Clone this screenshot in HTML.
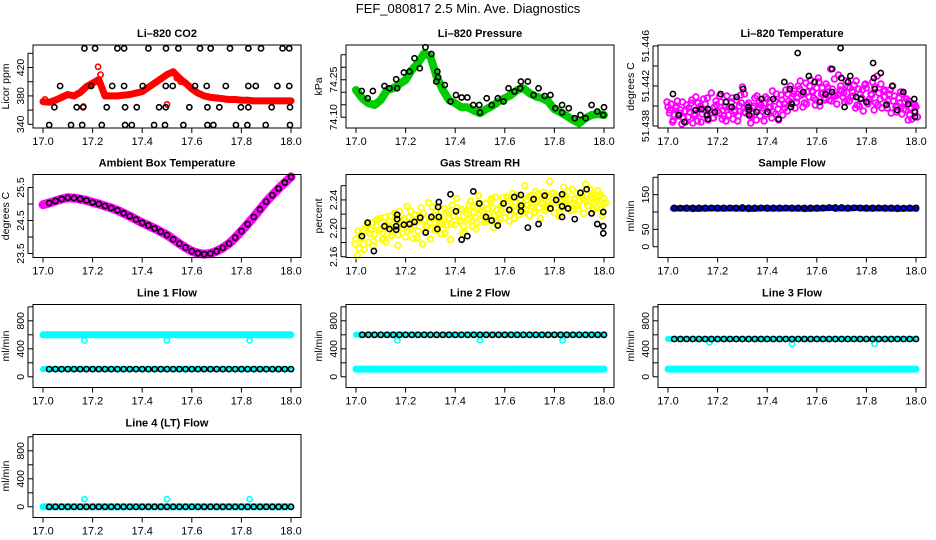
<!DOCTYPE html>
<html><head><meta charset="utf-8">
<style>
html,body{margin:0;padding:0;background:#fff;}
svg{display:block;font-family:"Liberation Sans",Arial,sans-serif;}
</style></head>
<body>
<svg id="chart" width="936" height="540" viewBox="0 0 936 540" xmlns="http://www.w3.org/2000/svg">
<text x="468" y="13" text-anchor="middle" font-size="13">FEF_080817  2.5 Min. Ave. Diagnostics</text>
</svg>
<script>
// ---------- data ----------
const xTicks = [17.0,17.2,17.4,17.6,17.8,18.0];
const xTickLabels = ["17.0","17.2","17.4","17.6","17.8","18.0"];

const co2Red = [372,371,374,378,382,380,385,393,398,403,380,380,380,381,382,384,386,392,398,404,410,414,405,398,390,384,380,378,377,376,375,375,374,374,373,373,373,373,373,373,373];
const co2BlackT = [17.167,17.21,17.30,17.327,17.425,17.496,17.546,17.633,17.676,17.754,17.828,17.879,17.966,17.993,
 17.069,17.194,17.279,17.327,17.402,17.495,17.523,17.613,17.66,17.737,17.828,17.858,17.945,17.993,
 17.046,17.136,17.162,17.257,17.331,17.378,17.468,17.495,17.59,17.663,17.711,17.798,17.828,17.922,17.996,
 17.025,17.113,17.158,17.237,17.331,17.358,17.448,17.492,17.566,17.663,17.687,17.778,17.824,17.898,17.996];
const co2BlackV = [447,447,447,447,447,447,447,447,447,447,447,447,447,447,
 394,394,394,394,394,394,394,394,394,394,394,394,394,394,
 364,364,364,364,364,364,364,364,364,364,364,364,364,364,364,
 339,339,339,339,339,339,339,339,339,339,339,339,339,339,339];
const co2OutT = [17.008,17.163,17.222,17.232,17.50,17.54,17.555];
const co2OutV = [375,365,421,410,368,405,400];

const presGreen = [74.209,74.176,74.156,74.149,74.169,74.209,74.216,74.233,74.249,74.289,74.316,74.356,74.343,74.263,74.209,74.169,74.156,74.140,74.140,74.127,74.116,74.132,74.145,74.163,74.176,74.189,74.209,74.216,74.196,74.183,74.176,74.163,74.132,74.119,74.105,74.089,74.076,74.096,74.109,74.113,74.109];
const presBlackT = [17.023,17.047,17.068,17.115,17.135,17.162,17.166,17.193,17.216,17.236,17.257,17.280,17.304,17.328,17.324,17.331,17.358,17.381,17.403,17.426,17.449,17.473,17.497,17.5,17.527,17.547,17.572,17.595,17.615,17.639,17.662,17.665,17.693,17.716,17.736,17.761,17.784,17.804,17.831,17.831,17.858,17.882,17.905,17.926,17.95,17.973,17.997,18.0];
const presBlackV = [74.205,74.176,74.205,74.225,74.216,74.252,74.216,74.279,74.283,74.336,74.296,74.38,74.353,74.283,74.243,74.26,74.229,74.163,74.189,74.179,74.179,74.149,74.149,74.119,74.176,74.149,74.176,74.163,74.216,74.203,74.216,74.243,74.243,74.189,74.216,74.185,74.189,74.136,74.149,74.119,74.136,74.096,74.109,74.096,74.149,74.123,74.109,74.14];

const tempMagA = [51.4399,51.4402,51.4391,51.4405,51.4396,51.4388,51.4401,51.4394,51.4383,51.4409,51.4397,51.4392,51.4402,51.4386,51.4413,51.4399,51.4395,51.4404,51.4390,51.4410,51.4398,51.4387,51.4406,51.4400,51.4419,51.4393,51.4403,51.4389,51.4408,51.4396,51.4401,51.4385,51.4407,51.4399,51.4394,51.4412,51.4402,51.4391,51.4416,51.4405,51.4409,51.4398,51.4420,51.4411,51.4403,51.4414,51.4426,51.4408,51.4418,51.4400,51.4413,51.4422,51.4406,51.4417,51.4410,51.4431,51.4415,51.4404,51.4419,51.4409,51.4421,51.4401,51.4412,51.4395,51.4418,51.4407,51.4424,51.4403,51.4413,51.4398,51.4416,51.4405,51.4393,51.4410,51.4400,51.4414,51.4397,51.4407,51.4391,51.4402,51.4399];
const tempMagB = [51.4393,51.4384,51.4398,51.4390,51.4382,51.4395,51.4389,51.4403,51.4392,51.4385,51.4400,51.4407,51.4390,51.4396,51.4388,51.4405,51.4393,51.4387,51.4399,51.4391,51.4404,51.4396,51.4385,51.4411,51.4394,51.4401,51.4390,51.4398,51.4386,51.4404,51.4395,51.4409,51.4399,51.4388,51.4405,51.4397,51.4411,51.4402,51.4395,51.4420,51.4412,51.4404,51.4417,51.4399,51.4423,51.4409,51.4415,51.4401,51.4428,51.4412,51.4406,51.4419,51.4437,51.4411,51.4402,51.4416,51.4409,51.4425,51.4405,51.4414,51.4398,51.4417,51.4408,51.4421,51.4402,51.4412,51.4396,51.4430,51.4407,51.4415,51.4402,51.4412,51.4420,51.4399,51.4408,51.4392,51.4404,51.4386,51.4398,51.4395,51.4389];
const tempMagC = [51.4404,51.4396,51.4386,51.4400,51.4393,51.4404,51.4384,51.4398,51.4406,51.4390,51.4403,51.4384,51.4396,51.4408,51.4393,51.4388,51.4401,51.4410,51.4396,51.4385,51.4399,51.4408,51.4394,51.4390,51.4403,51.4412,51.4397,51.4383,51.4400,51.4410,51.4390,51.4398,51.4392,51.4404,51.4415,51.4392,51.4386,51.4406,51.4398,51.4412,51.4403,51.4415,51.4408,51.4425,51.4412,51.4402,51.4420,51.4414,51.4406,51.4424,51.4418,51.4408,51.4414,51.4405,51.4427,51.4411,51.4420,51.4413,51.4406,51.4418,51.4410,51.4425,51.4400,51.4416,51.4422,51.4404,51.4411,51.4419,51.4401,51.4422,51.4409,51.4398,51.4416,51.4405,51.4394,51.4403,51.4412,51.4396,51.4405,51.4387,51.4401];
const tempBlackT = [17.02,17.043,17.066,17.111,17.135,17.161,17.158,17.161,17.189,17.212,17.234,17.257,17.277,17.303,17.324,17.327,17.327,17.357,17.377,17.401,17.424,17.446,17.469,17.491,17.496,17.499,17.523,17.545,17.568,17.591,17.612,17.635,17.661,17.662,17.696,17.699,17.726,17.712,17.735,17.759,17.777,17.8,17.827,17.83,17.834,17.858,17.881,17.904,17.924,17.949,17.969,17.993,17.996,17.996];
const tempBlackV = [51.4412,51.4391,51.4384,51.4396,51.4397,51.4397,51.4391,51.4387,51.4394,51.4412,51.4404,51.4399,51.4409,51.4417,51.4399,51.4396,51.4391,51.4394,51.4407,51.4394,51.4407,51.4387,51.4424,51.4417,51.4399,51.4402,51.4453,51.4414,51.443,51.4424,51.4404,51.4412,51.4414,51.4437,51.4458,51.4428,51.4424,51.4399,51.443,51.4409,51.4407,51.4404,51.4443,51.4428,51.4417,51.4433,51.4401,51.442,51.4396,51.4414,51.4402,51.4407,51.4389,51.4394];

const ambient = [24.98,25.03,25.09,25.15,25.19,25.18,25.15,25.11,25.05,25.00,24.94,24.88,24.81,24.72,24.63,24.53,24.43,24.35,24.26,24.16,24.06,23.93,23.80,23.68,23.57,23.51,23.48,23.50,23.57,23.67,23.80,23.98,24.18,24.39,24.61,24.84,25.07,25.27,25.47,25.65,25.82];

const rhA = [2.185,2.172,2.195,2.201,2.180,2.208,2.192,2.213,2.199,2.186,2.205,2.217,2.194,2.210,2.224,2.201,2.188,2.215,2.207,2.219,2.196,2.229,2.212,2.203,2.185,2.218,2.226,2.209,2.199,2.221,2.214,2.233,2.205,2.219,2.227,2.196,2.212,2.238,2.222,2.208,2.226,2.217,2.235,2.211,2.229,2.244,2.220,2.232,2.215,2.239,2.227,2.214,2.247,2.231,2.222,2.240,2.218,2.236,2.252,2.229,2.243,2.225,2.237,2.249,2.222,2.245,2.233,2.258,2.230,2.241,2.226,2.250,2.238,2.244,2.262,2.231,2.247,2.236,2.253,2.228,2.242];
const rhB = [2.162,2.190,2.178,2.204,2.193,2.176,2.211,2.198,2.184,2.216,2.203,2.190,2.222,2.176,2.206,2.214,2.231,2.198,2.186,2.210,2.218,2.178,2.203,2.236,2.214,2.197,2.212,2.192,2.228,2.205,2.184,2.217,2.242,2.209,2.193,2.225,2.233,2.203,2.216,2.246,2.231,2.208,2.220,2.239,2.201,2.226,2.214,2.243,2.222,2.210,2.249,2.237,2.219,2.228,2.260,2.233,2.246,2.222,2.238,2.214,2.251,2.230,2.266,2.241,2.229,2.217,2.244,2.235,2.252,2.225,2.240,2.232,2.248,2.221,2.238,2.255,2.242,2.229,2.244,2.218,2.236];
const rhC = [2.178,2.196,2.186,2.170,2.206,2.198,2.182,2.203,2.214,2.194,2.181,2.209,2.201,2.220,2.191,2.207,2.212,2.196,2.224,2.204,2.186,2.213,2.221,2.197,2.208,2.230,2.201,2.216,2.210,2.193,2.224,2.206,2.217,2.229,2.211,2.203,2.221,2.214,2.231,2.199,2.236,2.224,2.212,2.228,2.242,2.219,2.209,2.226,2.236,2.244,2.218,2.230,2.224,2.240,2.233,2.226,2.245,2.231,2.223,2.248,2.236,2.241,2.228,2.233,2.250,2.238,2.222,2.246,2.241,2.233,2.255,2.235,2.227,2.249,2.240,2.232,2.244,2.226,2.239,2.247,2.233];
const rhBlackT = [17.024,17.047,17.072,17.115,17.135,17.162,17.166,17.166,17.162,17.193,17.216,17.236,17.259,17.281,17.304,17.328,17.334,17.331,17.334,17.381,17.403,17.426,17.449,17.473,17.497,17.524,17.547,17.572,17.595,17.618,17.638,17.665,17.665,17.666,17.693,17.716,17.736,17.761,17.784,17.807,17.831,17.831,17.831,17.855,17.882,17.905,17.930,17.950,17.973,17.997,17.997,17.997];
const rhBlackV = [2.189,2.208,2.168,2.203,2.199,2.203,2.213,2.219,2.198,2.205,2.206,2.209,2.215,2.194,2.216,2.199,2.237,2.230,2.216,2.248,2.224,2.184,2.189,2.252,2.235,2.216,2.211,2.204,2.235,2.226,2.244,2.247,2.224,2.232,2.201,2.241,2.206,2.246,2.228,2.240,2.248,2.216,2.231,2.228,2.213,2.250,2.255,2.221,2.206,2.223,2.203,2.193];

const sampleBlue = [110,110,111,110,109,110,110,111,110,110,111,110,110,109,110,111,110,110,110,111,110,110,109,110,110,111,112,110,111,110,112,111,110,110,111,110,110,109,110,110,110];
const sampleBlack = [112,112,111,112,112,112,112,112,112,112,112,112,113,112,112,112,112,112,112,112,112,112,112,112,112,112,113,113,113,112,112,112,112,112,112,112,112,112,111,112,112];

const line1CyanHi = [600,600,600,600,600,600,600,600,600,600,600,600,600,600,600,600,600,600,600,600,600,600,600,600,600,600,600,600,600,600,600,600,600,600,600,600,600,600,600,600,600];
const line1Black = 110;
const line1Cyan = 110;
const line2Black = 600;
const line2Cyan = 110;
const line3Black = 540;
const line3Cyan = 110;
const line4Black = 0;
const line4Cyan = 0;
const dipT = [17.167,17.50,17.833];
const line1Dip = [520,520,520];
const line2Dip = [520,520,520];
const line3Dip = [490,470,470];
const line4Dip = [110,110,110];
</script>
<script>
const svg = document.getElementById('chart');
const NS = 'http://www.w3.org/2000/svg';
const colLeft = [33,346,658], W = 268, rowTop = [45,174.5,304.5,434.5], H = 83;
function mk(tag, attrs){ const e=document.createElementNS(NS,tag); for(const k in attrs) e.setAttribute(k,attrs[k]); return e; }
function dense(n){ const a=[]; for(let i=0;i<n;i++) a.push(17+i/(n-1)); return a; }

function panel(col,row,title,ylab,lo,hi,yt,ylabels,name){
  const L=colLeft[col], T=rowTop[row];
  const g=mk('g',{});
  
  
  svg.appendChild(g);
  const p={g,L,T,
    x:v=>L+10+(v-17)*248,
    y:v=>T+H*(hi-v)/(hi-lo)};
  const t=mk('text',{x:L+W/2,y:T-8,'text-anchor':'middle','font-size':'11','font-weight':'bold'});
  t.textContent=title;
  
  
  g.appendChild(t);
  const yl=mk('text',{x:0,y:0,'text-anchor':'middle','font-size':'10.5',transform:`translate(${L-24},${T+H/2}) rotate(-90)`});
  yl.textContent=ylab;
  
  
  g.appendChild(yl);
  const xa=mk('g',{});
  
  
  g.appendChild(xa);
  xTicks.forEach((v,i)=>{
    const X=p.x(v);
    xa.appendChild(mk('line',{x1:X,x2:X,y1:T+H,y2:T+H+5,stroke:'#000','stroke-width':1}));
    const tl=mk('text',{x:X,y:T+H+17,'text-anchor':'middle','font-size':'11'});
    tl.textContent=xTickLabels[i];
    xa.appendChild(tl);
  });
  const ya=mk('g',{});
  
  
  g.appendChild(ya);
  ya.appendChild(mk('line',{x1:L-5,x2:L-5,y1:p.y(yt[0]),y2:p.y(yt[yt.length-1]),stroke:'#000','stroke-width':1}));
  yt.forEach(v=>{
    const Y=p.y(v);
    ya.appendChild(mk('line',{x1:L-5,x2:L,y1:Y,y2:Y,stroke:'#000','stroke-width':1}));
  });
  ylabels.forEach(s=>{
    const Y=p.y(parseFloat(s));
    const tl=mk('text',{x:0,y:0,'text-anchor':'middle','font-size':'10.5',transform:`translate(${L-9},${Y}) rotate(-90)`});
    tl.textContent=s;
    ya.appendChild(tl);
  });
  p.plot=mk('g',{});
  
  
  g.appendChild(p.plot);
  const box=mk('rect',{x:L,y:T,width:W,height:H,fill:'none',stroke:'#000','stroke-width':1});
  
  
  g.appendChild(box);
  return p;
}
function pts(p,ts,vs,color,nm,r,sw){
  const gg=mk('g',{});
  
  
  p.plot.appendChild(gg);
  for(let i=0;i<vs.length;i++){
    const c=mk('circle',{cx:p.x(ts[i]),cy:p.y(vs[i]),r:r||2.6,fill:'none',stroke:color,'stroke-width':sw||1.6});
    
    
    gg.appendChild(c);
  }
}
function band(p,ts,vs,color,nm,w){
  const d=ts.map((t,i)=>(i?'L':'M')+p.x(t).toFixed(1)+','+p.y(vs[i]).toFixed(1)).join('');
  const pa=mk('path',{d,fill:'none',stroke:color,'stroke-width':w||6,'stroke-linejoin':'round','stroke-linecap':'round'});
  
  
  p.plot.appendChild(pa);
}
function flat(v,n){ return Array(n).fill(v); }
function range(a,b,s){ const r=[]; for(let v=a;v<=b+1e-9;v+=s) r.push(+v.toFixed(4)); return r; }

let p=panel(0,0,'Li\u2013820 CO2','Licor ppm',334.8,451.7,range(340,440,20),['340','380','420'],'co2');
const t41=dense(41);
band(p,t41,co2Red,'#f00','co2-red-band',7);
pts(p,t41,co2Red,'#f00','co2-red-series');
pts(p,co2OutT,co2OutV,'#f00','co2-red-outliers');
pts(p,co2BlackT,co2BlackV,'#000','co2-black-series');

p=panel(1,0,'Li\u2013820 Pressure','kPa',74.057,74.389,range(74.10,74.35,0.05),['74.10','74.25'],'pressure');
band(p,t41,presGreen,'#0c0','pressure-green-band',8);
pts(p,t41,presGreen,'#0c0','pressure-green-series');
pts(p,presBlackT,presBlackV,'#000','pressure-black-series');

p=panel(2,0,'Li\u2013820 Temperature','degrees C',51.4378,51.4461,range(51.438,51.446,0.002),['51.438','51.442','51.446'],'li820-temp');
const t81=dense(81);
pts(p,t81,tempMagA,'#f0f','temp-magenta-series-a',2.8,1.9);
pts(p,t81.map(t=>t+0.006),tempMagB,'#f0f','temp-magenta-series-b',2.8,1.9);
pts(p,t81.map(t=>t-0.004),tempMagC,'#f0f','temp-magenta-series-c',2.8,1.9);
pts(p,tempBlackT,tempBlackV,'#000','temp-black-series');

p=panel(0,1,'Ambient Box Temperature','degrees C',23.379,25.894,range(23.5,25.5,0.5),['23.5','24.5','25.5'],'ambient');
band(p,t41,ambient,'#f0f','ambient-magenta-band',9);
pts(p,t41.slice(1),ambient.slice(1),'#000','ambient-black-series');

p=panel(1,1,'Gas Stream RH','percent',2.1589,2.2758,range(2.16,2.26,0.02),['2.16','2.20','2.24'],'rh');
pts(p,t81,rhA,'#ff0','rh-yellow-series-a',2.8,1.9);
pts(p,t81.map(t=>t+0.006),rhB,'#ff0','rh-yellow-series-b',2.8,1.9);
pts(p,t81.map(t=>t-0.004),rhC,'#ff0','rh-yellow-series-c',2.8,1.9);
pts(p,rhBlackT,rhBlackV,'#000','rh-black-series');

p=panel(2,1,'Sample Flow','ml/min',-31,208,range(0,200,50),['0','50','150'],'sample-flow');
band(p,t41.map(t=>t*0.98+0.36),sampleBlue,'#00f','sample-blue-band',6);
pts(p,t41.slice(1),sampleBlue.slice(1),'#00f','sample-blue-series');
pts(p,t41.slice(1),sampleBlack.slice(1),'#000','sample-black-series');

const fl=-153, fh=1033, ftk=range(0,1000,200), flab=['0','400','800'];
p=panel(0,2,'Line 1 Flow','ml/min',fl,fh,ftk,flab,'line1');
band(p,t41,line1CyanHi,'#0ff','line1-cyan-band',7);
band(p,t41,flat(line1Cyan,41),'#0ff','line1-cyan-low-band',6);
pts(p,dipT,line1Dip,'#0ff','line1-cyan-outliers');
pts(p,t41.slice(1),flat(line1Black,40),'#000','line1-black-series');

p=panel(1,2,'Line 2 Flow','ml/min',fl,fh,ftk,flab,'line2');
band(p,t41,flat(line2Cyan,41),'#0ff','line2-cyan-band',7);
band(p,t41,flat(line2Black,41),'#0ff','line2-cyan-high-band',6);
pts(p,dipT,line2Dip,'#0ff','line2-cyan-outliers');
pts(p,t41.slice(1),flat(line2Black,40),'#000','line2-black-series');

p=panel(2,2,'Line 3 Flow','ml/min',fl,fh,ftk,flab,'line3');
band(p,t41,flat(line3Cyan,41),'#0ff','line3-cyan-band',7);
band(p,t41,flat(line3Black,41),'#0ff','line3-cyan-high-band',6);
pts(p,dipT,line3Dip,'#0ff','line3-cyan-outliers');
pts(p,t41.slice(1),flat(line3Black,40),'#000','line3-black-series');

p=panel(0,3,'Line 4 (LT) Flow','ml/min',fl,fh,ftk,flab,'line4');
band(p,t41,flat(line4Cyan,41),'#0ff','line4-cyan-band',7);
pts(p,dipT,line4Dip,'#0ff','line4-cyan-outliers');
pts(p,t41.slice(1),flat(line4Black,40),'#000','line4-black-series');
</script>
</body></html>
